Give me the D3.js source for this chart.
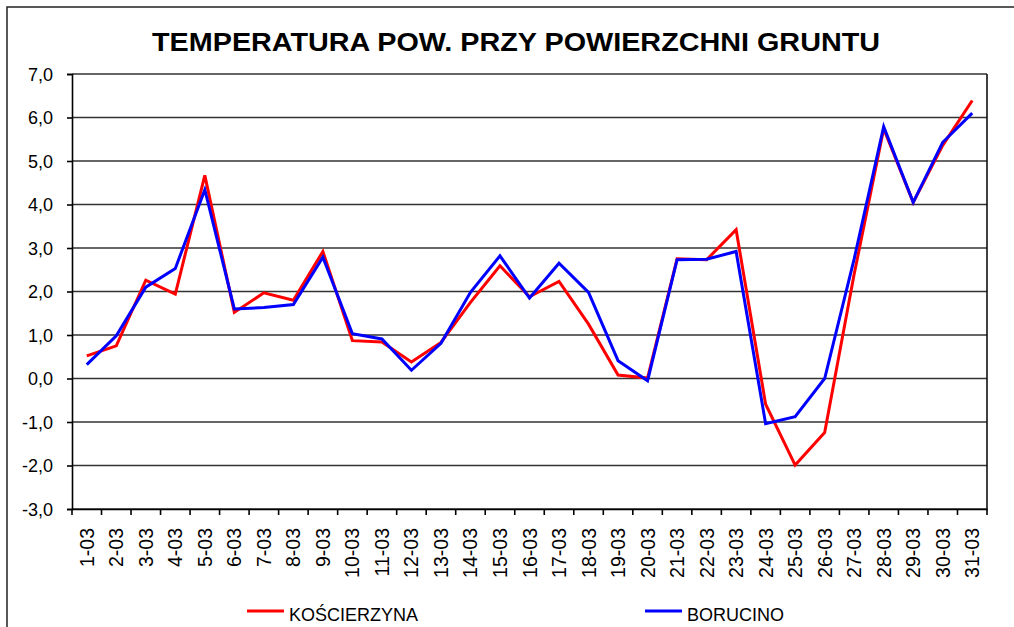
<!DOCTYPE html>
<html>
<head>
<meta charset="utf-8">
<script src="https://cdn.jsdelivr.net/npm/d3@7"></script>
<style>
    body { margin: 0; background: #fff; }
    text { font-family: "Liberation Sans", Arial, sans-serif; fill: #000; }
</style>
</head>
<body>
<script>
"use strict";

const days = ["1-03", "2-03", "3-03", "4-03", "5-03", "6-03", "7-03", "8-03", "9-03", "10-03",
    "11-03", "12-03", "13-03", "14-03", "15-03", "16-03", "17-03", "18-03", "19-03", "20-03",
    "21-03", "22-03", "23-03", "24-03", "25-03", "26-03", "27-03", "28-03", "29-03", "30-03", "31-03"];

const koscierzyna = [0.52, 0.75, 2.26, 1.94, 4.67, 1.52, 1.97, 1.80, 2.92, 0.87,
    0.84, 0.38, 0.83, 1.75, 2.59, 1.88, 2.23, 1.25, 0.08, 0.01,
    2.75, 2.73, 3.42, -0.59, -1.99, -1.24, 2.40, 5.74, 4.05, 5.36, 6.39];

const borucino = [0.32, 0.98, 2.10, 2.53, 4.34, 1.60, 1.63, 1.70, 2.79, 1.03,
    0.91, 0.19, 0.81, 1.98, 2.82, 1.85, 2.65, 1.98, 0.41, -0.05,
    2.73, 2.74, 2.92, -1.04, -0.88, 0.00, 2.75, 5.79, 4.05, 5.43, 6.10];

const yTicks = [-3, -2, -1, 0, 1, 2, 3, 4, 5, 6, 7];

const seriesNames = ["KOŚCIERZYNA", "BORUCINO"];
const seriesColors = ["#ff0000", "#0000ff"];

const measurements = {
    width: 1014,
    height: 627,
    left: 72,
    right: 987,
    top: 74,
    bottom: 509
};

const svg = d3.select("body").append("svg")
    .attr("width", measurements.width)
    .attr("height", measurements.height);

// outer frame (cut off on the right and bottom)
svg.append("path")
    .attr("d", "M7," + measurements.height + "V7H" + measurements.width)
    .attr("fill", "none")
    .attr("stroke", "#222")
    .attr("stroke-width", 1.5);

svg.append("text")
    .attr("x", 516)
    .attr("y", 51)
    .attr("text-anchor", "middle")
    .attr("textLength", 728)
    .attr("lengthAdjust", "spacingAndGlyphs")
    .style("font-family", "'Liberation Sans Narrow', 'Liberation Sans', Arial, sans-serif")
    .style("font-weight", "bold")
    .style("font-size", "25px")
    .text("TEMPERATURA POW. PRZY POWIERZCHNI GRUNTU");

const scaleX = d3.scaleBand()
    .domain(days)
    .range([measurements.left, measurements.right])
    .padding(0);

const scaleY = d3.scaleLinear()
    .domain([-3, 7])
    .range([measurements.bottom, measurements.top]);

// gridlines
svg.append("g")
    .selectAll("line")
    .data(yTicks)
    .enter()
    .append("line")
    .attr("x1", measurements.left)
    .attr("x2", measurements.right)
    .attr("y1", d => scaleY(d))
    .attr("y2", d => scaleY(d))
    .attr("stroke", "#333")
    .attr("stroke-width", 1.6);

// right border of plot area
svg.append("line")
    .attr("x1", measurements.right).attr("x2", measurements.right)
    .attr("y1", measurements.top).attr("y2", measurements.bottom)
    .attr("stroke", "#111")
    .attr("stroke-width", 1.6);

// y axis
const yAxis = d3.axisLeft(scaleY)
    .tickValues(yTicks)
    .tickSize(5)
    .tickPadding(14)
    .tickFormat(d => d3.format(".1f")(d).replace(".", ",").replace("−", "-"));

const gy = svg.append("g")
    .attr("transform", "translate(" + measurements.left + ",0)")
    .call(yAxis);
gy.select(".domain").attr("stroke", "#000").attr("stroke-width", 1.6);
gy.selectAll(".tick line").attr("stroke", "#000").attr("stroke-width", 1.6);
gy.selectAll("text")
    .style("font-size", "18px")
    .attr("dy", "0.36em");

// x axis: labels at band centres, ticks at band edges
const xAxis = d3.axisBottom(scaleX).tickSize(0).tickPadding(0);
const gx = svg.append("g")
    .attr("transform", "translate(0," + measurements.bottom + ")")
    .call(xAxis);
gx.select(".domain").attr("stroke", "#000").attr("stroke-width", 1.6);
gx.selectAll("text")
    .style("font-size", "19.5px")
    .attr("text-anchor", "end")
    .attr("transform", "rotate(-90)")
    .attr("x", -19)
    .attr("y", 0)
    .attr("dy", "0.36em");

const edges = days.map(d => scaleX(d)).concat([scaleX.range()[1]]);
gx.selectAll("line.edge")
    .data(edges)
    .enter()
    .append("line")
    .attr("class", "edge")
    .attr("x1", d => d).attr("x2", d => d)
    .attr("y1", 0).attr("y2", 6)
    .attr("stroke", "#000")
    .attr("stroke-width", 1.6);

// series
const line = d3.line()
    .x((d, i) => scaleX(days[i]) + scaleX.bandwidth() / 2)
    .y(d => scaleY(d));

[koscierzyna, borucino].forEach((values, k) => {
    svg.append("path")
        .datum(values)
        .attr("fill", "none")
        .attr("stroke", seriesColors[k])
        .attr("stroke-width", 3)
        .attr("stroke-linejoin", "miter")
        .attr("d", line);
});

// legend
const legendX = [247, 645];
seriesNames.forEach((name, k) => {
    const g = svg.append("g").attr("transform", "translate(" + legendX[k] + ",611)");
    g.append("line")
        .attr("x1", 0).attr("x2", 37)
        .attr("stroke", seriesColors[k])
        .attr("stroke-width", 3);
    g.append("text")
        .attr("x", 42)
        .attr("y", 9.5)
        .style("font-size", "18px")
        .text(name);
});
</script>
</body>
</html>
